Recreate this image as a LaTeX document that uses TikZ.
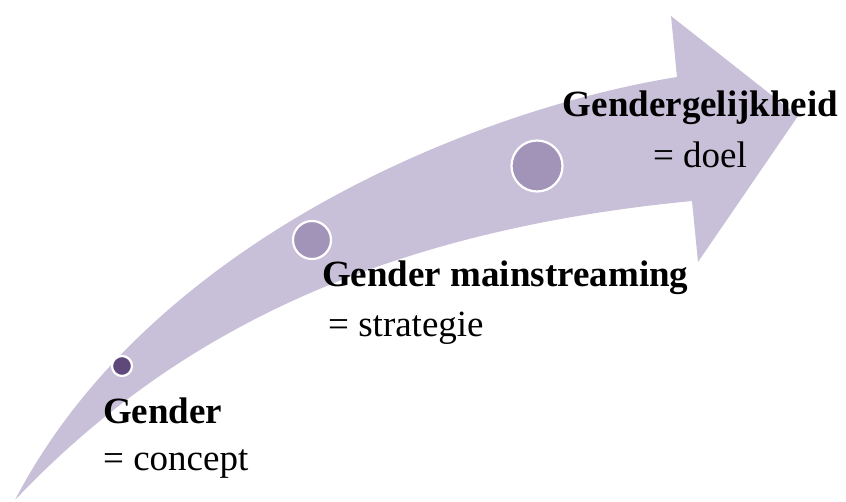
\documentclass[tikz,border=0pt]{standalone}
\usepackage{fontspec}
\setmainfont{Liberation Serif}
\definecolor{arrowfill}{HTML}{C8C0D8}
\definecolor{dotlight}{HTML}{A294B8}
\definecolor{dotdark}{HTML}{5F497A}
\tikzset{
  dot/.style={circle, draw=white, line width=2.2pt, inner sep=0pt},
  lbl/.style={inner sep=0pt, font=\fontsize{37}{46}\selectfont},
}
\begin{document}
\begin{tikzpicture}[x=1pt,y=-1pt]
\useasboundingbox (0,0) rectangle (846,502);
\fill[arrowfill] (15,500) .. controls (150,240) and (477,109) .. (677,77)
  -- (671,16) -- (798,116) -- (698,262) -- (692,201)
  .. controls (370,232) and (167,340) .. (15,500) -- cycle;
\node[dot, fill=dotdark, minimum size=20pt] (c1) at (122,366) {};
\node[dot, fill=dotlight, minimum size=38pt] (c2) at (312,240) {};
\node[dot, fill=dotlight, minimum size=51pt] (c3) at (537,166) {};
\node[lbl, anchor=base west] (t1) at (103,424) {\textbf{Gender}};
\node[lbl, anchor=base west] (s1) at (103,470) {= concept};
\node[lbl, anchor=base west] (t2) at (322,287) {\textbf{Gender mainstreaming}};
\node[lbl, anchor=base west] (s2) at (328,337) {= strategie};
\node[lbl, anchor=base] (t3) at (700.5,117) {\textbf{Gendergelijkheid}};
\node[lbl, anchor=base] (s3) at (700,168) {= doel};
\end{tikzpicture}
\end{document}
